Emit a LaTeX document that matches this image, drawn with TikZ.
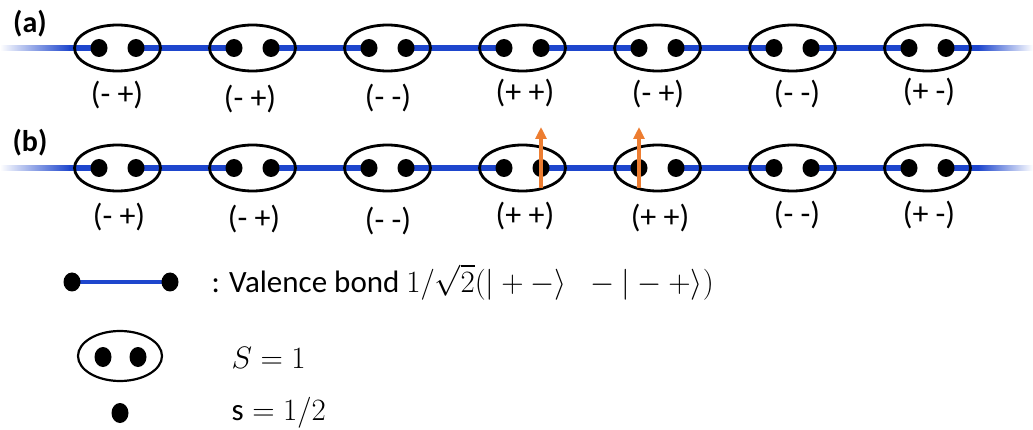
\RequirePackage{fix-cm}
\documentclass[tikz,border=0pt]{standalone}
\usepackage{amsmath}
\usepackage{fontspec}
\setmainfont{Carlito}
\usetikzlibrary{arrows.meta, positioning, calc, shapes.geometric, backgrounds}
\definecolor{bondblue}{RGB}{30,70,205}
\definecolor{spinorange}{RGB}{237,125,49}

\tikzset{
  site/.style={draw, ellipse, line width=2.8pt, minimum width=86pt, minimum height=46pt, inner sep=0pt},
  spin/.style={fill, ellipse, minimum width=17pt, minimum height=18pt, inner sep=0pt},
  bond/.style={bondblue, line width=5.5pt},
  flip/.style={spinorange, line width=3.5pt, -{Triangle[length=12pt,width=11pt]}},
  lbl/.style={font=\fontsize{32}{36}\selectfont},
  key/.style={anchor=west, font=\fontsize{31}{35}\selectfont}
}

\begin{document}
\begin{tikzpicture}[x=1pt, y=-1pt]
    \useasboundingbox (0,0) rectangle (1033,430);
    \def\d{135}
    % the two chains
    \foreach \r/\y in {a/48, b/168} {
        \foreach \i in {1,...,7} {
            \node[site] (\r\i) at ({117.5+(\i-1)*\d},\y) {};
            \node[spin] (\r\i l) at ($(\r\i)+(-18.5,0)$) {};
            \node[spin] (\r\i r) at ($(\r\i)+(18.5,0)$) {};
        }
        \coordinate (\r0) at (0,\y);
        \coordinate (\r8) at (1033,\y);
    }
    \node[font=\fontsize{30}{34}\selectfont\bfseries] (la) at (30,24) {(a)};
    \node[font=\fontsize{30}{34}\selectfont\bfseries] (lb) at (30,143) {(b)};

    % valence bonds (behind the sites)
    \begin{pgfonlayer}{background}
        \foreach \r in {a,b} {
            \foreach \i [evaluate=\i as \j using int(\i+1)] in {1,...,6}
                \draw[bond] (\r\i r.center) -- (\r\j l.center);
            \shade[left color=white, right color=bondblue] ($(\r0)+(0,-2.75)$) rectangle ($(\r0)+(70,2.75)$);
            \draw[bond] ($(\r0)+(69,0)$) -- (\r1l.center);
            \shade[left color=bondblue, right color=white] ($(\r8)+(-55,-2.75)$) rectangle ($(\r8)+(0,2.75)$);
            \draw[bond] (\r7r.center) -- ($(\r8)+(-54,0)$);
        }
    \end{pgfonlayer}

    % labels
    \foreach \i/\s/\x/\y in {1/{(- +)}/117/95, 2/{(- +)}/250/99, 3/{(- -)}/388/98, 4/{(+ +)}/525/93,
                             5/{(- +)}/658/94, 6/{(- -)}/797/94, 7/{(+ -)}/929/92}
        \node[lbl] (ta\i) at (\x,\y) {\s};
    \foreach \i/\s/\x/\y in {1/{(- +)}/119/217, 2/{(- +)}/254/219, 3/{(- -)}/388/221, 4/{(+ +)}/525/216,
                             5/{(+ +)}/660/218, 6/{(- -)}/797/215, 7/{(+ -)}/929/215}
        \node[lbl] (tb\i) at (\x,\y) {\s};

    % flipped spins
    \coordinate (dn1) at ($(b4r)+(0,20)$);
    \coordinate (up1) at ($(b4r)+(0,-41)$);
    \coordinate (dn2) at ($(b5l)+(0,20)$);
    \coordinate (up2) at ($(b5l)+(0,-41)$);
    \draw[flip] (dn1) -- (up1);
    \draw[flip] (dn2) -- (up2);

    % legend
    \node[spin, minimum height=19pt] (k1) at (72,282) {};
    \node[spin, minimum height=19pt] (k2) at (170,282) {};
    \begin{pgfonlayer}{background}
        \draw[bond, line width=4.5pt] (k1.center) -- (k2.center);
    \end{pgfonlayer}
    \node[key] (kvb) at (208,282) {: Valence bond $1/\sqrt{2}(|+-\rangle\;\;-|-+\rangle)$};

    \node[site, line width=2.2pt, minimum width=84pt, minimum height=50pt] (ks) at (120,356) {};
    \node[spin, minimum height=20pt] (ks1) at (103,357) {};
    \node[spin, minimum height=20pt] (ks2) at (138,357) {};
    \node[key] (kS) at (228,358) {$S=1$};

    \node[spin, minimum height=20pt] (kd) at (120,413) {};
    \node[key] (kd1) at (228,413) {s\;$=1/2$};
\end{tikzpicture}
\end{document}
